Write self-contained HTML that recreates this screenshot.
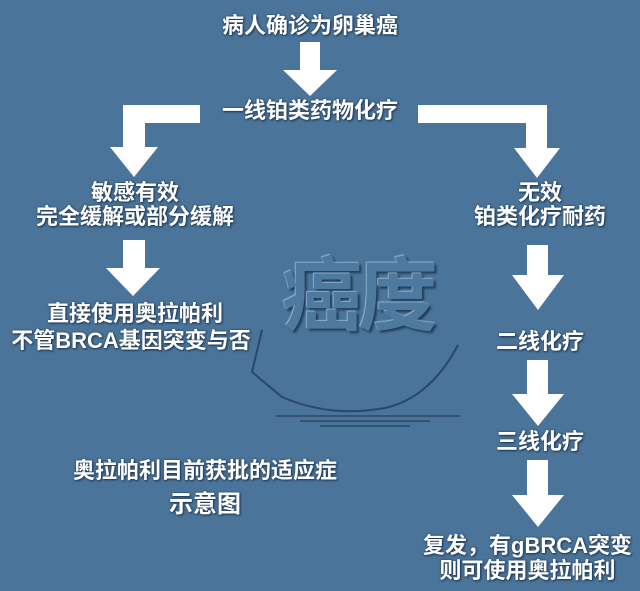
<!DOCTYPE html>
<html><head><meta charset="utf-8"><style>
html,body{margin:0;padding:0}
body{width:640px;height:591px;background:#4a7499;position:relative;overflow:hidden;font-family:"Liberation Sans","Noto Sans CJK SC","WenQuanYi Zen Hei",sans-serif}
.t{position:absolute;color:#fff;font-size:22px;font-weight:bold;text-align:center;white-space:nowrap;line-height:24px;text-shadow:1px 1px 2px #1e3550,0 0 2px #2a4565}
svg{position:absolute;left:0;top:0}
.wm{position:absolute;left:282px;top:252px;font-size:80px;line-height:90px;color:#4f7a9f;font-weight:bold;text-shadow:-1px -1px 1px #8fb0cc,2px 2px 2px #1f3b58;letter-spacing:-4px}
</style></head><body>
<div class="wm">癌度</div>
<svg width="640" height="591">
<g fill="none" stroke-width="2">
<path d="M262 330 L252 372 L282 397 Q330 418 385 408 Q430 398 458 345" stroke="#2a4868"/>
<path d="M276 416 L460 416 M300 421 L430 421 M320 426 L410 426" stroke="#2a4868" stroke-width="1.5"/>
</g>
<g fill="#fff">
<rect x="300" y="42" width="20" height="30"/><polygon points="283,70 337,70 310,96"/>
<rect x="123" y="105" width="77" height="18"/><rect x="123" y="105" width="22" height="45"/><polygon points="110,147 158,147 134,177"/>
<rect x="418" y="105" width="129" height="18"/><rect x="526" y="105" width="21" height="45"/><polygon points="514,148 560,148 537,178"/>
<rect x="123" y="240" width="22" height="30"/><polygon points="106,268 160,268 133,296"/>
<rect x="527" y="245" width="21" height="32"/><polygon points="512,275 564,275 538,310"/>
<rect x="527" y="360" width="21" height="36"/><polygon points="512,394 564,394 538,426"/>
<rect x="527" y="460" width="21" height="37"/><polygon points="512,495 564,495 538,527"/>
</g>
</svg>
<div class="t" style="left:160px;width:300px;top:14px">病人确诊为卵巢癌</div>
<div class="t" style="left:160px;width:300px;top:99px">一线铂类药物化疗</div>
<div class="t" style="left:10px;width:250px;top:181px">敏感有效</div>
<div class="t" style="left:10px;width:250px;top:205px">完全缓解或部分缓解</div>
<div class="t" style="left:10px;width:250px;top:302px">直接使用奥拉帕利</div>
<div class="t" style="left:0px;width:262px;top:329px">不管BRCA基因突变与否</div>
<div class="t" style="left:440px;width:200px;top:181px">无效</div>
<div class="t" style="left:440px;width:200px;top:205px">铂类化疗耐药</div>
<div class="t" style="left:440px;width:200px;top:330px">二线化疗</div>
<div class="t" style="left:440px;width:200px;top:430px">三线化疗</div>
<div class="t" style="left:415px;width:225px;top:534px">复发，有gBRCA突变</div>
<div class="t" style="left:415px;width:225px;top:559px">则可使用奥拉帕利</div>
<div class="t" style="left:50px;width:310px;top:459px">奥拉帕利目前获批的适应症</div>
<div class="t" style="left:50px;width:310px;top:493px;font-size:24px">示意图</div>
</body></html>
